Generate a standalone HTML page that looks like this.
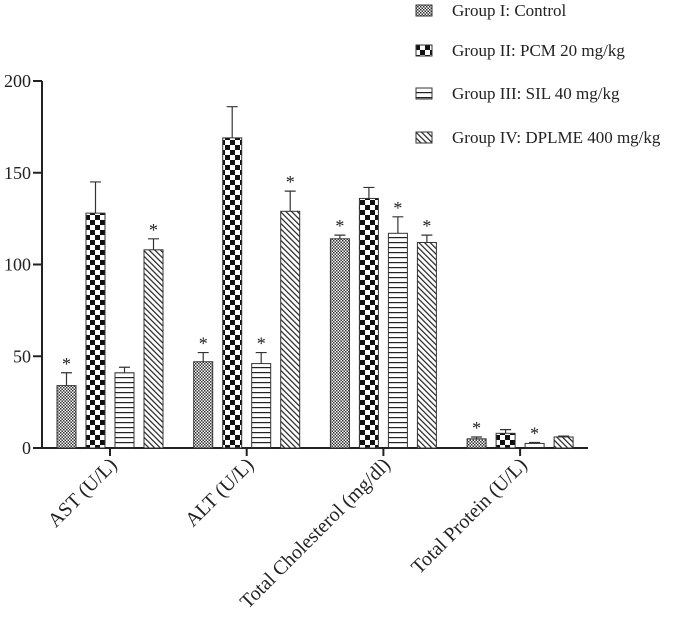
<!DOCTYPE html>
<html><head><meta charset="utf-8"><style>body{margin:0;background:#fff}svg{display:block}text{font-family:"Liberation Serif",serif;fill:#222}</style></head>
<body>
<svg id="c" width="685" height="626" viewBox="0 0 685 626">
<defs>
<pattern id="p0" width="3" height="3" patternUnits="userSpaceOnUse"><rect width="3" height="3" fill="#fff"/><rect width="1.5" height="1.5" fill="#333"/><rect x="1.5" y="1.5" width="1.5" height="1.5" fill="#333"/></pattern>
<pattern id="p1" width="10" height="10" patternUnits="userSpaceOnUse"><rect width="10" height="10" fill="#fff"/><rect width="5" height="5" fill="#111"/><rect x="5" y="5" width="5" height="5" fill="#111"/></pattern>
<pattern id="p2" width="5" height="5" patternUnits="userSpaceOnUse"><rect width="5" height="5" fill="#fff"/><rect y="2" width="5" height="1.2" fill="#222"/></pattern>
<pattern id="p3" width="4" height="4" patternUnits="userSpaceOnUse" patternTransform="rotate(-45)"><rect width="4" height="4" fill="#fff"/><rect width="1.2" height="4" fill="#222"/></pattern>
</defs>
<g id="plot"></g>
</svg>
<script>
const categories=["AST (U/L)","ALT (U/L)","Total Cholesterol (mg/dl)","Total Protein (U/L)"];
const groups=["Group I: Control","Group II: PCM 20 mg/kg","Group III: SIL 40 mg/kg","Group IV: DPLME 400 mg/kg"];
const g1=[34,47,114,5];
const g2=[128,169,136,8];
const g3=[41,46,117,2.5];
const g4=[108,129,112,6];
const e1=[7,5,2,1];
const e2=[17,17,6,2];
const e3=[3,6,9,0.5];
const e4=[6,11,4,0.5];
const s1=[1,1,1,1];
const s2=[0,0,0,0];
const s3=[0,1,1,1];
const s4=[1,1,1,0];
const yTicks=[0,50,100,150,200];
const series=[g1,g2,g3,g4],errs=[e1,e2,e3,e4],stars=[s1,s2,s3,s4];
const NS="http://www.w3.org/2000/svg";
const plot=document.getElementById('plot');
function y(v){return 448-v*(367/200);}
function xb(c,s){return 57+c*136.7+s*29;}
function mk(t,a,p){const e=document.createElementNS(NS,t);for(const k in a)e.setAttribute(k,a[k]);(p||plot).appendChild(e);return e;}
let ax=mk('line',{x1:42,y1:y(200),x2:42,y2:448,stroke:'#222','stroke-width':2});


let bx=mk('line',{x1:41,y1:448,x2:588,y2:448,stroke:'#222','stroke-width':2});


yTicks.forEach(t=>{
 let l=mk('line',{x1:33,x2:42,y1:y(t),y2:y(t),stroke:'#222','stroke-width':2});
 
 
 let tx=mk('text',{x:31,y:y(t)+6,'text-anchor':'end','font-size':18});
 tx.textContent=t;
 
 
});
categories.forEach((c,ci)=>{
 const cx=xb(ci,0)+53;
 let l=mk('line',{x1:cx,x2:cx,y1:448,y2:456,stroke:'#222','stroke-width':2});
 
 
 let tx=mk('text',{x:cx+8,y:466,'text-anchor':'end','font-size':20,transform:`rotate(-45 ${cx+8} 466)`});
 tx.textContent=c;
 
 
 series.forEach((sv,si)=>{
  const x0=xb(ci,si),v=sv[ci],top=y(v),et=y(v+errs[si][ci]);
  let eb=mk('path',{d:`M${x0+9.5} ${top}V${et}M${x0+4} ${et}H${x0+15}`,stroke:'#333','stroke-width':1.2,fill:'none'});
  
  
  let r=mk('rect',{x:x0,y:top,width:19,height:448-top,fill:`url(#p${si})`,stroke:'#333','stroke-width':1});
  
  
  if(stars[si][ci]){let s=mk('text',{x:x0+9.5,y:et-3,'text-anchor':'middle','font-size':18});s.textContent='*';
   
   }
 });
});
const ly=[10,50,93,137];
groups.forEach((g,i)=>{
 let r=mk('rect',{x:416,y:ly[i]-5,width:16,height:11,fill:`url(#p${i})`,stroke:'#333','stroke-width':1});
 
 
 let t=mk('text',{x:452,y:ly[i]+6,'font-size':17});
 t.textContent=g;
 
 
});
</script>
</body></html>
